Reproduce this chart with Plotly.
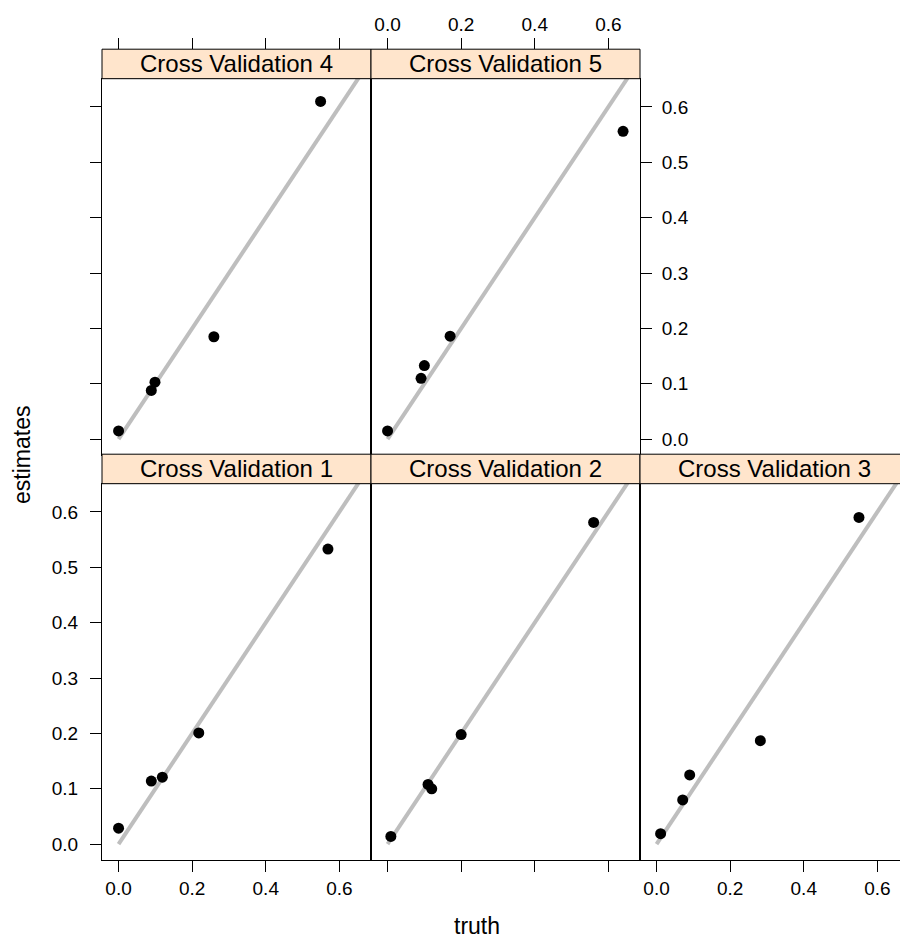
import plotly.graph_objects as go

# ---------------- data ----------------
panel_names = ["Cross Validation 1", "Cross Validation 2", "Cross Validation 3",
               "Cross Validation 4", "Cross Validation 5"]

cv1_truth = [0.000, 0.089, 0.119, 0.218, 0.569]
cv1_est   = [0.029, 0.114, 0.121, 0.201, 0.533]
cv2_truth = [0.009, 0.110, 0.120, 0.200, 0.560]
cv2_est   = [0.014, 0.108, 0.100, 0.198, 0.581]
cv3_truth = [0.011, 0.071, 0.090, 0.282, 0.550]
cv3_est   = [0.019, 0.080, 0.125, 0.187, 0.590]
cv4_truth = [0.000, 0.089, 0.099, 0.259, 0.549]
cv4_est   = [0.015, 0.088, 0.103, 0.185, 0.610]
cv5_truth = [0.000, 0.091, 0.100, 0.170, 0.640]
cv5_est   = [0.015, 0.110, 0.133, 0.186, 0.556]

ref_line = [0.0, 0.7]            # y = x reference line
tick_vals = [0.0, 0.2, 0.4, 0.6]
tick_text = ["0.0", "0.2", "0.4", "0.6"]
ytick_vals = [0.0, 0.1, 0.2, 0.3, 0.4, 0.5, 0.6]
ytick_text = ["0.0", "0.1", "0.2", "0.3", "0.4", "0.5", "0.6"]

truths = [cv1_truth, cv2_truth, cv3_truth, cv4_truth, cv5_truth]
ests = [cv1_est, cv2_est, cv3_est, cv4_est, cv5_est]

# ---------------- layout geometry ----------------
# the page body has an 8px margin, so the figure occupies 8..908 x 8..940
OFF = 8
W, H = 908 - OFF, 940 - OFF
def px(x):
    return (x - OFF) / W
def py(y):
    return 1 - (y - OFF) / H

FONT = "Liberation Sans, Arial, Helvetica, sans-serif"
TICK_FS = 19
STRIP_FS = 24
LAB_FS = 23

cols = [(102, 371), (371, 640), (640, 908)]
rows = {"bottom": (483.7, 859.7), "top": (78.7, 454.7)}
STRIP_H = 29.5
XR = [-0.045, 0.686]
YR = [-0.028, 0.651]
PPU = 368.0  # pixels per unit on x

# (col index, row) for each panel
place = [(0, "bottom"), (1, "bottom"), (2, "bottom"), (0, "top"), (1, "top")]

fig = go.Figure()

for i in range(5):
    ax = "" if i == 0 else str(i + 1)
    fig.add_trace(go.Scatter(x=ref_line, y=ref_line, mode="lines",
                             line=dict(color="#BEBEBE", width=4),
                             xaxis="x" + ax, yaxis="y" + ax,
                             showlegend=False, hoverinfo="skip"))
    fig.add_trace(go.Scatter(x=truths[i], y=ests[i], mode="markers",
                             marker=dict(color="black", size=11),
                             xaxis="x" + ax, yaxis="y" + ax,
                             showlegend=False, cliponaxis=False))

# dummy traces for the top tick axes drawn above the strips
fig.add_trace(go.Scatter(x=[None], y=[None], xaxis="x6", yaxis="y4",
                         showlegend=False, hoverinfo="skip"))
fig.add_trace(go.Scatter(x=[None], y=[None], xaxis="x7", yaxis="y5",
                         showlegend=False, hoverinfo="skip"))

base_axis = dict(showgrid=False, zeroline=False, linecolor="black", linewidth=1,
                 tickcolor="black", tickwidth=1, ticklen=11,
                 tickfont=dict(family=FONT, size=TICK_FS, color="black"),
                 fixedrange=True)

# x tick / label settings per panel
x_ticks = [("outside", True), ("outside", False), ("outside", True), ("", False), ("", False)]
# y tick / label / side settings per panel
y_ticks = [("outside", True, "left"), ("", False, "left"), ("", False, "left"),
           ("outside", False, "left"), ("outside", True, "right")]

layout_axes = {}
shapes = []
annotations = []
for i in range(5):
    c, r = place[i]
    x0p, x1p = cols[c]
    ytop, ybot = rows[r]
    xr = list(XR)
    if c == 2:
        xr = [XR[0], XR[0] + (x1p - x0p) / PPU]
    mirror = c != 2
    key = "" if i == 0 else str(i + 1)
    xa = dict(base_axis)
    xa.update(domain=[px(x0p), min(px(x1p), 1.0)], range=xr,
              anchor="y" + key, showline=True, mirror=mirror,
              tickvals=tick_vals, ticktext=tick_text,
              ticks=x_ticks[i][0], showticklabels=x_ticks[i][1])
    ya = dict(base_axis)
    ya.update(domain=[py(ybot), py(ytop)], range=YR,
              anchor="x" + key, showline=True, mirror=mirror,
              tickvals=ytick_vals, ticktext=ytick_text,
              ticks=y_ticks[i][0], showticklabels=y_ticks[i][1],
              side=y_ticks[i][2],
              ticklabelstandoff=(8 if y_ticks[i][2] == "left" else 6))
    layout_axes["xaxis" + key] = xa
    layout_axes["yaxis" + key] = ya

    # strip
    s_bot = ytop
    s_top = ytop - STRIP_H
    shapes.append(dict(type="rect", xref="paper", yref="paper",
                       x0=px(x0p), x1=px(x1p + (2 if c == 2 else 0)),
                       y0=py(s_bot), y1=py(s_top),
                       fillcolor="#FFE5CC", line=dict(color="black", width=1),
                       layer="above"))
    annotations.append(dict(text=panel_names[i], xref="paper", yref="paper",
                            x=px((x0p + x1p) / 2), y=py((s_bot + s_top) / 2),
                            showarrow=False, xanchor="center", yanchor="middle",
                            font=dict(family=FONT, size=STRIP_FS, color="black")))

# top tick axes above the top-row strips
top_pos = py(rows["top"][0] - STRIP_H)
for key, c, labels in [("6", 0, False), ("7", 1, True)]:
    xa = dict(base_axis)
    xa.update(domain=[px(cols[c][0]), px(cols[c][1])], range=XR,
              anchor="free", position=top_pos, side="top", showline=False,
              tickvals=tick_vals, ticktext=tick_text,
              ticks="outside", showticklabels=labels)
    layout_axes["xaxis" + key] = xa

annotations.append(dict(text="truth", xref="paper", yref="paper",
                        x=px(477), y=py(926), showarrow=False,
                        xanchor="center", yanchor="middle",
                        font=dict(family=FONT, size=LAB_FS, color="black")))
annotations.append(dict(text="estimates", xref="paper", yref="paper",
                        x=px(22), y=py(455), showarrow=False, textangle=-90,
                        xanchor="center", yanchor="middle",
                        font=dict(family=FONT, size=LAB_FS, color="black")))

fig.update_layout(width=W, height=H, autosize=False,
                  margin=dict(l=0, r=0, t=0, b=0),
                  paper_bgcolor="white", plot_bgcolor="rgba(0,0,0,0)",
                  showlegend=False, shapes=shapes, annotations=annotations,
                  **layout_axes)

fig.write_html("out.html")
